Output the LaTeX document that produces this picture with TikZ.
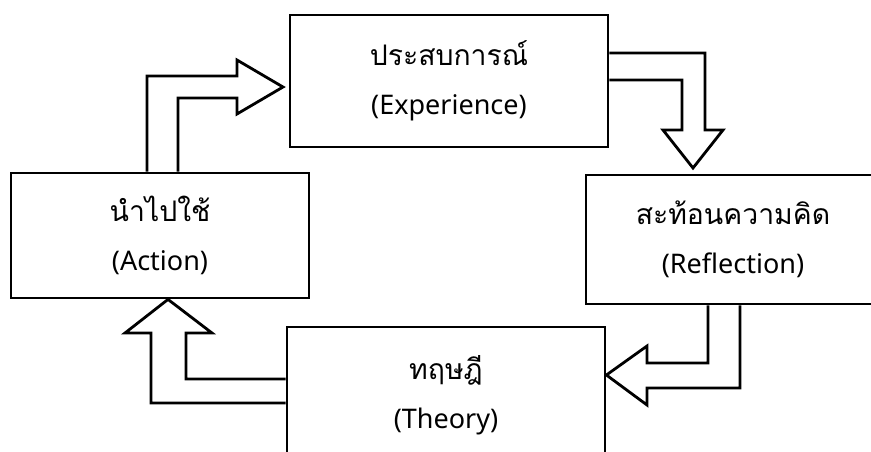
\documentclass[tikz,border=0pt]{standalone}
\usepackage{fontspec}
\usepackage{tikz}
\usetikzlibrary{calc}
\setmainfont{Noto Sans}
\newfontfamily\thaifont[Script=Thai, Scale=1.05]{Loma}

\begin{document}
\begin{tikzpicture}[x=1pt, y=-1pt, line width=2.8pt,
    every node/.style={font=\fontsize{27}{49}\selectfont},
    box/.style={draw, align=center, inner sep=0pt},
    blockarrow/.style={draw, line join=miter}]
    \useasboundingbox (0,0) rectangle (871,451);
    \clip (0,0) rectangle (871,451);

    % กล่อง
    \node[box, minimum width=318, minimum height=132] (exp) at (449, 81) {{\thaifont ประสบการณ์}\\(Experience)};
    \node[box, minimum width=294, minimum height=129] (ref) at (733, 239.5) {{\thaifont สะท้อนความคิด}\\(Reflection)};
    \node[box, minimum width=318, minimum height=136] (theo) at (446, 395) {{\thaifont ทฤษฎี}\\(Theory)};
    \node[box, minimum width=298, minimum height=125] (act) at (160, 235.5) {{\thaifont นำไปใช้}\\(Action)};

    % ลูกศร
    \draw[blockarrow] (147,0 |- act.north) -- (147,76) -- (237,76) -- (237,60) -- (283,87)
        -- (237,114) -- (237,98) -- (178,98) -- (178,0 |- act.north);
    \draw[blockarrow] (exp.east |- 0,53) -- (705,53) -- (705,130) -- (723,130) -- (693,168)
        -- (663,130) -- (682,130) -- (682,80) -- (exp.east |- 0,80);
    \draw[blockarrow] (740,0 |- ref.south) -- (740,388) -- (647,388) -- (647,405) -- (theo.east |- 0,375)
        -- (647,346) -- (647,363) -- (708,363) -- (708,0 |- ref.south);
    \draw[blockarrow] (theo.west |- 0,403) -- (151,403) -- (151,333) -- (125,333) -- (168,0 |- act.south)
        -- (212,333) -- (186,333) -- (186,379) -- (theo.west |- 0,379);
\end{tikzpicture}
\end{document}
